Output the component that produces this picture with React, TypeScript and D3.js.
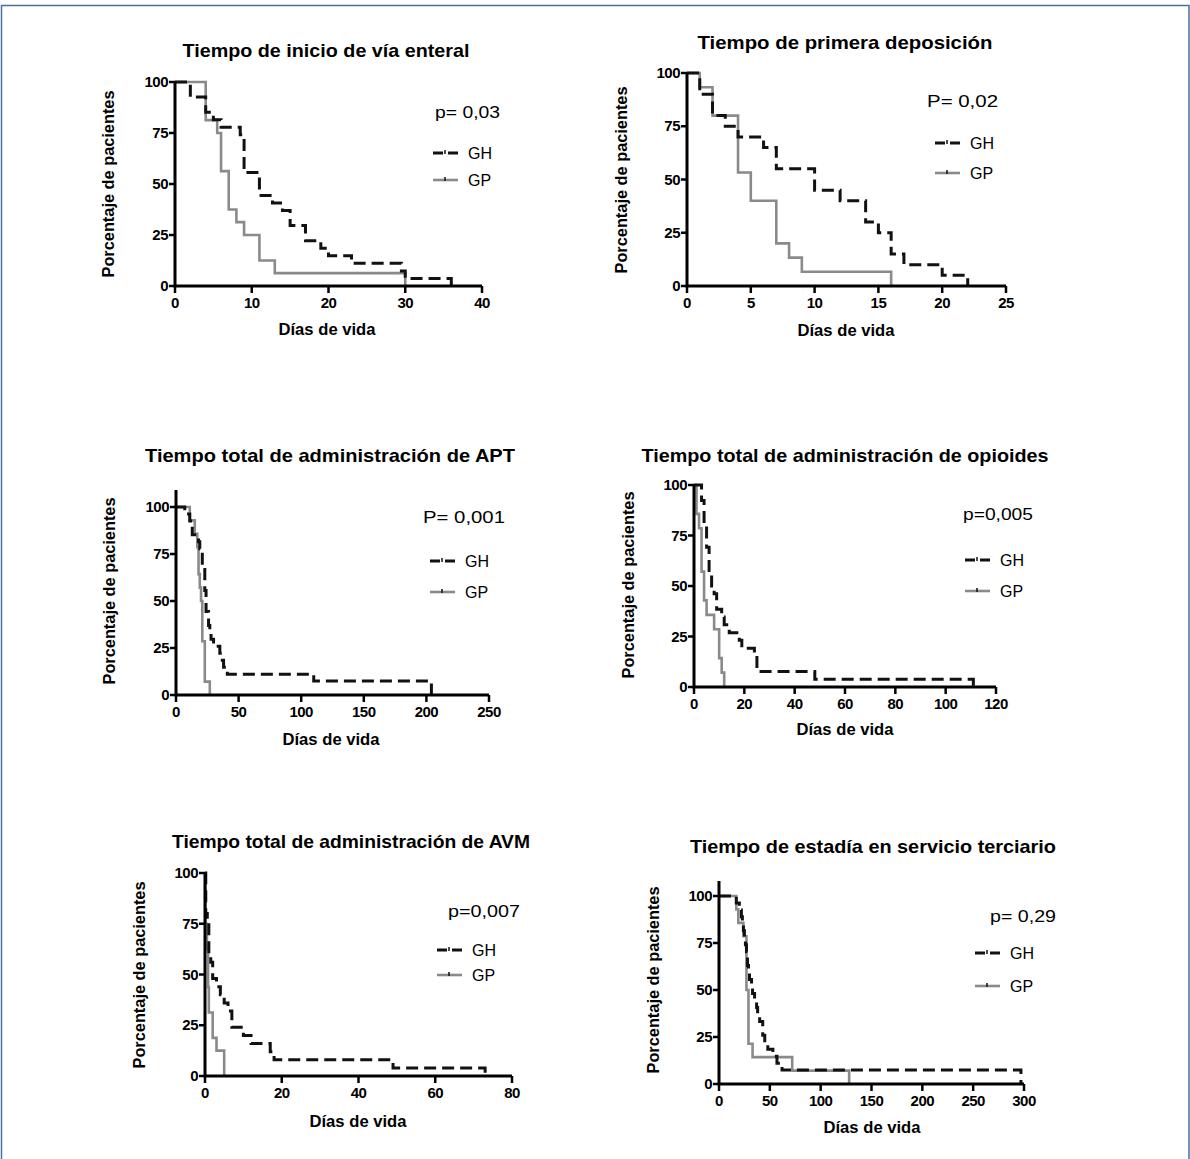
import React from 'react';
import { scaleLinear, line, curveStepAfter } from 'd3';

// Kaplan-Meier steps, [día, % pacientes]
const enteralGH = [[0, 100], [2, 92.6], [4, 85.2], [5, 81.5], [6, 77.8], [8.5, 74.1], [9, 55.6], [11, 44.4], [12.7, 40.7], [14, 37], [15, 29.6], [17, 22.2], [19, 18.5], [20, 14.8], [23, 11.1], [29.5, 7.4], [30, 3.7], [36, 0]];
const enteralGP = [[0, 100], [4, 81.3], [5.5, 75], [6, 56.3], [7, 37.5], [8, 31.3], [9, 25], [11, 12.5], [13, 6.3], [30, 0]];

const deposicionGH = [[0, 100], [1, 90], [2, 80], [3, 75], [4, 70], [6, 65], [7, 55], [10, 45], [12, 40], [14, 30], [15, 25], [16, 15], [17, 10], [20, 5], [22, 0]];
const deposicionGP = [[0, 100], [1, 93.3], [2, 80], [4, 53.3], [5, 40], [7, 20], [8, 13.3], [9, 6.7], [16, 0]];

const aptGH = [[0, 100], [7, 96.3], [11, 92.6], [13, 85.2], [18, 81.5], [19, 77.8], [21, 66.7], [23, 55.6], [24, 44.4], [26, 37], [27, 33.3], [28, 29.6], [30, 25.9], [35, 22.2], [37, 18.5], [38, 14.8], [41, 11.1], [110, 7.4], [204, 0]];
const aptGP = [[0, 100], [11, 92.9], [15, 85.7], [17, 78.6], [18, 64.3], [19, 57.1], [20, 50], [21, 28.6], [23, 7.1], [27, 0]];

const opioidesGH = [[0, 100], [3, 92.3], [4, 80.8], [5, 69.2], [6, 57.7], [7, 50], [8, 46.2], [9, 38.5], [11, 34.6], [12, 30.8], [14, 26.9], [18, 23.1], [19, 19.2], [24, 15.4], [25, 7.7], [48, 3.8], [111, 0]];
const opioidesGP = [[0, 100], [1, 85.7], [2, 78.6], [3, 57.1], [4, 42.9], [5, 35.7], [8, 28.6], [10, 14.3], [11, 7.1], [12, 0]];

const avmGH = [[0, 100], [0.2, 80], [0.6, 76], [1, 60], [1.5, 56], [2, 48], [3, 44], [4, 40], [5, 36], [6, 32], [7, 24], [10, 20], [12, 16], [17, 12], [18, 8], [49, 4], [73, 0]];
const avmGP = [[0, 100], [0.1, 75], [0.5, 62.5], [0.8, 43.8], [1, 31.3], [2, 18.8], [3, 12.5], [5, 0]];

const estadiaGH = [[0, 100], [17, 96.3], [20, 92.6], [22, 88.9], [23, 85.2], [24, 81.5], [25, 77.8], [26, 74.1], [27, 70.4], [28, 63], [29, 59.3], [30, 55.6], [32, 51.9], [33, 48.1], [35, 44.4], [37, 40.7], [38, 37], [40, 33.3], [43, 25.9], [45, 22.2], [48, 18.5], [53, 14.8], [57, 11.1], [62, 7.4], [297, 0]];
const estadiaGP = [[0, 100], [17, 92.9], [19, 85.7], [24, 78.6], [27, 50], [29, 21.4], [33, 14.3], [72, 7.1], [128, 0]];

const titles = [
  'Tiempo de inicio de vía enteral',
  'Tiempo de primera deposición',
  'Tiempo total de administración de APT',
  'Tiempo total de administración de opioides',
  'Tiempo total de administración de AVM',
  'Tiempo de estadía en servicio terciario'
];
const pValues = ['p= 0,03', 'P= 0,02', 'P= 0,001', 'p=0,005', 'p=0,007', 'p= 0,29'];
const xTicks = [
  [0, 10, 20, 30, 40],
  [0, 5, 10, 15, 20, 25],
  [0, 50, 100, 150, 200, 250],
  [0, 20, 40, 60, 80, 100, 120],
  [0, 20, 40, 60, 80],
  [0, 50, 100, 150, 200, 250, 300]
];
const yTicks = [0, 25, 50, 75, 100];
const groups = ['GH', 'GP'];
const series = [
  [enteralGH, enteralGP],
  [deposicionGH, deposicionGP],
  [aptGH, aptGP],
  [opioidesGH, opioidesGP],
  [avmGH, avmGP],
  [estadiaGH, estadiaGP]
];

// layout of each panel (page pixels)
const layout = [
  { x0: 175, x1: 482, y0: 286, y100: 82, yTop: 100, title: [326, 57, 287], ytl: [114, 184], xtl: [327, 335], p: [435, 118, 65], leg: [433, 153, 180] },
  { x0: 687, x1: 1006, y0: 286, y100: 73, yTop: 100, title: [845, 49, 295], ytl: [627, 180], xtl: [846, 336], p: [927, 107, 71], leg: [935, 143, 173] },
  { x0: 176, x1: 489, y0: 695, y100: 507, yTop: 109, title: [330, 462, 370], ytl: [115, 591], xtl: [331, 745], p: [423, 523, 82], leg: [430, 561, 592] },
  { x0: 694, x1: 996, y0: 687, y100: 485, yTop: 100, title: [845, 462, 407], ytl: [634, 585], xtl: [845, 735], p: [963, 520, 70], leg: [965, 560, 591] },
  { x0: 205, x1: 512, y0: 1076, y100: 873, yTop: 100, title: [351, 848, 358], ytl: [145, 975], xtl: [358, 1127], p: [448, 917, 72], leg: [437, 950, 975] },
  { x0: 719, x1: 1024, y0: 1084, y100: 896, yTop: 108, title: [873, 853, 366], ytl: [659, 980], xtl: [872, 1133], p: [990, 922, 66], leg: [975, 953, 986] }
];

const FONT = "'Liberation Sans', Arial, Helvetica, sans-serif";
const GRAY = '#8a8a8a';
const DASH = '12 6';

function Panel({ i }) {
  const L = layout[i];
  const ticks = xTicks[i];
  const xMax = ticks[ticks.length - 1];
  const x = scaleLinear().domain([0, xMax]).range([L.x0, L.x1]);
  const y = scaleLinear().domain([0, 100]).range([L.y0, L.y100]);
  const km = line<number[]>()
    .x((d) => x(d[0]))
    .y((d) => y(d[1]))
    .curve(curveStepAfter);
  const [gh, gp] = series[i];
  const legX = L.leg[0];

  return (
    <g>
      <text x={L.title[0]} y={L.title[1]} textAnchor="middle" fontSize={18.5} fontWeight="bold"
        textLength={L.title[2]} lengthAdjust="spacingAndGlyphs">{titles[i]}</text>

      <text transform={`translate(${L.ytl[0]},${L.ytl[1]}) rotate(-90)`} textAnchor="middle"
        fontSize={16} fontWeight="bold" textLength={187} lengthAdjust="spacingAndGlyphs">Porcentaje de pacientes</text>
      <text x={L.xtl[0]} y={L.xtl[1]} textAnchor="middle" fontSize={16.5} fontWeight="bold"
        textLength={97} lengthAdjust="spacingAndGlyphs">Días de vida</text>

      {/* curves */}
      <path d={km(gp)} fill="none" stroke={GRAY} strokeWidth={2.6} />
      <path d={km(gh)} fill="none" stroke="#111" strokeWidth={3} strokeDasharray={DASH} />

      {/* axes */}
      <path d={`M${L.x0},${y(L.yTop)}V${L.y0}H${L.x1}`} fill="none" stroke="#000" strokeWidth={3} />
      {yTicks.map((t) => (
        <g key={'y' + t}>
          <line x1={L.x0 - 6} x2={L.x0} y1={y(t)} y2={y(t)} stroke="#000" strokeWidth={2.5} />
          <text x={L.x0 - 7} y={y(t) + 5} textAnchor="end" fontSize={15} fontWeight="bold" letterSpacing={-0.5}>{t}</text>
        </g>
      ))}
      {ticks.map((t) => (
        <g key={'x' + t}>
          <line x1={x(t)} x2={x(t)} y1={L.y0} y2={L.y0 + 7} stroke="#000" strokeWidth={2.5} />
          <text x={x(t)} y={L.y0 + 22} textAnchor="middle" fontSize={15} fontWeight="bold" letterSpacing={-0.5}>{t}</text>
        </g>
      ))}

      {/* p value */}
      <text x={L.p[0]} y={L.p[1]} fontSize={17} textLength={L.p[2]} lengthAdjust="spacingAndGlyphs">{pValues[i]}</text>

      {/* legend */}
      {groups.map((g, k) => {
        const ly = L.leg[1 + k];
        return (
          <g key={g}>
            <line x1={legX} x2={legX + 25} y1={ly} y2={ly}
              stroke={k === 0 ? '#111' : GRAY} strokeWidth={k === 0 ? 3 : 2.6}
              strokeDasharray={k === 0 ? '10 5' : undefined} />
            <line x1={legX + 12} x2={legX + 12} y1={ly - 3} y2={ly + 1} stroke="#111" strokeWidth={1.5} />
            <text x={legX + 35} y={ly + 6} fontSize={16}>{g}</text>
          </g>
        );
      })}
    </g>
  );
}

export default function App() {
  return (
    <div style={{ position: 'absolute', left: 0, top: 0 }}>
      <svg width={1190} height={1159} style={{ display: 'block', fontFamily: FONT, background: '#fff' }}>
        <path d="M1.5,1159V5.5H1189V1159" fill="none" stroke="#4a6fa5" strokeWidth={1.5} />
        {layout.map((_, i) => <Panel key={i} i={i} />)}
      </svg>
    </div>
  );
}
